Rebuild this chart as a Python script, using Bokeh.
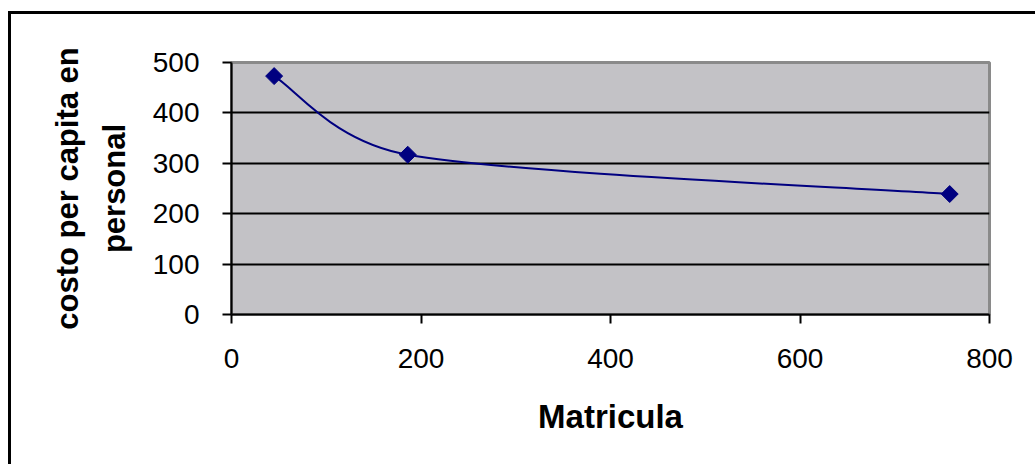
import math
from bokeh.plotting import figure
from bokeh.models import FixedTicker, Range1d
from bokeh.embed import file_html
from bokeh.resources import INLINE

# Data
matricula = [45, 186, 758]
costo = [473, 317, 239]
x_ticks = [0, 200, 400, 600, 800]
y_ticks = [0, 100, 200, 300, 400, 500]
x_title = "Matricula"
y_title = "costo per capita en\npersonal"

FONT = "Liberation Sans"
NAVY = "#000080"

W, H = 1024, 450
FL, FT, FW, FH = 220, 48, 758, 252

p = figure(width=W, height=H, frame_width=FW, frame_height=FH,
           min_border_left=FL, min_border_right=W - FL - FW,
           min_border_top=FT, min_border_bottom=H - FT - FH,
           x_range=Range1d(0, 800), y_range=Range1d(0, 500),
           output_backend="svg", toolbar_location=None,
           background_fill_color="#c3c2c6", border_fill_color="white")
p.margin = (11, 0, 0, 8)
p.styles = {"border-left": "3px solid black", "border-top": "3px solid black"}

p.outline_line_color = "#8a8a8a"
p.outline_line_width = 3

p.xgrid.visible = False
p.ygrid.ticker = FixedTicker(ticks=y_ticks[1:-1])
p.ygrid.grid_line_color = "black"
p.ygrid.grid_line_width = 2

for ax, ticks in ((p.xaxis[0], x_ticks), (p.yaxis[0], y_ticks)):
    ax.ticker = FixedTicker(ticks=ticks)
    ax.axis_line_color = "black"
    ax.axis_line_width = 2
    ax.major_tick_line_color = "black"
    ax.major_tick_line_width = 2
    ax.major_tick_out = 9
    ax.major_tick_in = 0
    ax.minor_tick_line_color = None
    ax.major_label_text_font = FONT
    ax.major_label_text_font_size = "28px"
    ax.major_label_text_color = "black"

p.xaxis.major_label_standoff = 25
p.yaxis.major_label_standoff = 23
p.xaxis.axis_label = x_title
p.xaxis.axis_label_text_font = FONT
p.xaxis.axis_label_text_font_style = "bold"
p.xaxis.axis_label_text_font_size = "33px"
p.xaxis.axis_label_text_color = "black"
p.xaxis.axis_label_standoff = 27

p.yaxis.axis_label = y_title
p.yaxis.axis_label_text_font = FONT
p.yaxis.axis_label_text_font_style = "bold"
p.yaxis.axis_label_text_font_size = "31px"
p.yaxis.axis_label_text_color = "black"
p.yaxis.axis_label_text_line_height = 1.35
p.yaxis.axis_label_standoff = 18

# Smoothed line (Excel-like Bezier smoothing between the data points)
sx = FW / 800.0
sy = FH / 500.0
px = [v * sx for v in matricula]
py = [v * sy for v in costo]
n = len(px)
seg = [math.hypot(px[i + 1] - px[i], py[i + 1] - py[i]) for i in range(n - 1)]
x0, y0, x1, y1, cx0, cy0, cx1, cy1 = [], [], [], [], [], [], [], []
for i in range(n - 1):
    if i == 0:
        ox = (px[1] - px[0]) / 6.0
        oy = (py[1] - py[0]) / 6.0
    else:
        f = math.sqrt(min(1.0, 2 * seg[i] / (seg[i - 1] + seg[i]))) / 6.0
        ox = (px[i + 1] - px[i - 1]) * f
        oy = (py[i + 1] - py[i - 1]) * f
    j = i + 1
    if j == n - 1:
        ix = (px[j] - px[j - 1]) / 6.0
        iy = (py[j] - py[j - 1]) / 6.0
    else:
        f = math.sqrt(min(1.0, 2 * seg[j - 1] / (seg[j - 1] + seg[j]))) / 6.0
        ix = (px[j + 1] - px[j - 1]) * f
        iy = (py[j + 1] - py[j - 1]) * f
    x0.append(matricula[i]); y0.append(costo[i])
    x1.append(matricula[j]); y1.append(costo[j])
    cx0.append((px[i] + ox) / sx); cy0.append((py[i] + oy) / sy)
    cx1.append((px[j] - ix) / sx); cy1.append((py[j] - iy) / sy)

p.bezier(x0=x0, y0=y0, x1=x1, y1=y1, cx0=cx0, cy0=cy0, cx1=cx1, cy1=cy1,
         line_color=NAVY, line_width=2)
p.scatter(matricula, costo, marker="square", angle=math.pi / 4, size=12,
          fill_color=NAVY, line_color=NAVY)

open("out.html", "w").write(file_html(p, INLINE))
